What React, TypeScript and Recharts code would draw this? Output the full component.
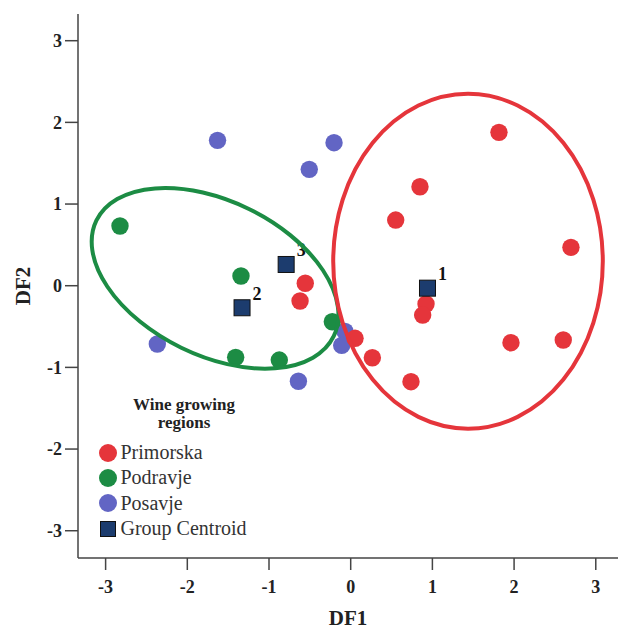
import React from 'react';
import { ScatterChart, Scatter, XAxis, YAxis, Legend } from 'recharts';

// axis ranges
const X_MIN = -3.338;
const X_MAX = 3.272;
const Y_MIN = -3.334;
const Y_MAX = 3.327;
const TICKS = [-3, -2, -1, 0, 1, 2, 3];

const primorska = [
  { x: 1.815, y: 1.878 },
  { x: 0.848, y: 1.212 },
  { x: 0.551, y: 0.804 },
  { x: 2.696, y: 0.47 },
  { x: 0.922, y: -0.224 },
  { x: 0.881, y: -0.359 },
  { x: 0.053, y: -0.644 },
  { x: 0.265, y: -0.882 },
  { x: 0.738, y: -1.175 },
  { x: 1.962, y: -0.698 },
  { x: 2.602, y: -0.665 },
  { x: -0.556, y: 0.03 },
  { x: -0.62, y: -0.187 },
];

const podravje = [
  { x: -2.824, y: 0.731 },
  { x: -1.343, y: 0.119 },
  { x: -0.225, y: -0.441 },
  { x: -1.408, y: -0.877 },
  { x: -0.874, y: -0.91 },
];

const posavje = [
  { x: -1.63, y: 1.78 },
  { x: -0.507, y: 1.425 },
  { x: -0.204, y: 1.751 },
  { x: -2.367, y: -0.714 },
  { x: -0.64, y: -1.17 },
  { x: -0.07, y: -0.56 },
  { x: -0.11, y: -0.73 },
];

const centroids = [
  { x: 0.94, y: -0.03, label: '1' },
  { x: -1.33, y: -0.27, label: '2' },
  { x: -0.79, y: 0.26, label: '3' },
];

// hand drawn group ellipses (centre and radii in DF units, angle in degrees)
const redEllipse = [{ x: 1.436, y: 0.3, rx: 1.65, ry: 2.05, angle: 0 }];
const greenEllipse = [{ x: -1.66, y: 0.09, rx: 1.616, ry: 0.945, angle: 26 }];

const RED = '#E5353B';
const GREEN = '#1C8C44';
const BLUE = '#6265C4';
const NAVY = '#1C3C6E';
const FONT = '"Liberation Serif", "Times New Roman", serif';

const CHART_W = 613;
const CHART_H = 621;
const MARGIN = { top: 6, right: 3, bottom: 0, left: 0 };
const Y_AXIS_W = 70;
const X_AXIS_H = 71;
const PX_X = (CHART_W - MARGIN.left - MARGIN.right - Y_AXIS_W) / (X_MAX - X_MIN);
const PX_Y = (CHART_H - MARGIN.top - MARGIN.bottom - X_AXIS_H) / (Y_MAX - Y_MIN);

const LEGEND_ITEMS = [
  { name: 'Primorska', color: RED, square: false },
  { name: 'Podravje', color: GREEN, square: false },
  { name: 'Posavje', color: BLUE, square: false },
  { name: 'Group Centroid', color: NAVY, square: true },
];

const dot = (color: string) => (p: any) => (
  <circle cx={p.cx} cy={p.cy} r={8.7} fill={color} />
);

const ellipseShape = (color: string) => (p: any) => (
  <ellipse
    cx={p.cx}
    cy={p.cy}
    rx={p.payload.rx * PX_X}
    ry={p.payload.ry * PX_Y}
    transform={`rotate(${p.payload.angle} ${p.cx} ${p.cy})`}
    fill="none"
    stroke={color}
    strokeWidth={4}
  />
);

const centroidShape = (p: any) => (
  <g>
    <rect x={p.cx - 8} y={p.cy - 8} width={16} height={16} fill={NAVY} stroke="#111" strokeWidth={1} />
    <text
      x={p.cx + 15}
      y={p.cy - 14}
      textAnchor="middle"
      dominantBaseline="central"
      fontFamily={FONT}
      fontWeight="bold"
      fontSize={18}
      fill="#111"
    >
      {p.payload.label}
    </text>
  </g>
);

const renderLegend = () => (
  <div style={{ fontFamily: FONT, color: '#333' }}>
    <div style={{ width: 176, textAlign: 'center', fontWeight: 'bold', fontSize: 17, lineHeight: '17.7px', color: '#222' }}>
      Wine growing
      <br />
      regions
    </div>
    <div style={{ marginTop: 8.6 }}>
      {LEGEND_ITEMS.map((item) => (
        <div key={item.name} style={{ display: 'flex', alignItems: 'center', height: 25.3 }}>
          <span
            style={{
              display: 'inline-block',
              marginLeft: item.square ? 3.5 : 2.5,
              width: item.square ? 16 : 18,
              height: item.square ? 16 : 18,
              borderRadius: item.square ? 0 : '50%',
              background: item.color,
              border: item.square ? '1px solid #111' : 'none',
              boxSizing: 'border-box',
              marginRight: item.square ? 5 : 4,
            }}
          />
          <span style={{ fontSize: 20, lineHeight: '25px' }}>{item.name}</span>
        </div>
      ))}
    </div>
  </div>
);

const tickStyle = { fontFamily: FONT, fontWeight: 'bold' as const, fontSize: 18, fill: '#222' };

export default function App() {
  return (
    <div style={{ padding: '8px 0 0 8px', width: CHART_W, height: CHART_H }}>
      <style>{'body{margin:0;overflow:hidden}'}</style>
      <ScatterChart width={CHART_W} height={CHART_H} margin={MARGIN}>
        {/* top frame line of the SPSS box */}
        <XAxis
          xAxisId="top"
          orientation="top"
          type="number"
          dataKey="x"
          domain={[X_MIN, X_MAX]}
          height={0}
          tick={false}
          tickLine={false}
          axisLine={{ stroke: '#888', strokeWidth: 1.5 }}
        />
        <XAxis
          type="number"
          dataKey="x"
          domain={[X_MIN, X_MAX]}
          ticks={TICKS}
          height={X_AXIS_H}
          tickSize={12}
          tickMargin={10}
          tick={tickStyle}
          fontSize={18}
          axisLine={{ stroke: '#444', strokeWidth: 1.5 }}
          tickLine={{ stroke: '#444', strokeWidth: 1.5 }}
          label={{ value: 'DF1', position: 'insideBottom', offset: 4, fontFamily: FONT, fontWeight: 'bold', fontSize: 21, fill: '#222' }}
        />
        <YAxis
          type="number"
          dataKey="y"
          domain={[Y_MIN, Y_MAX]}
          ticks={TICKS}
          width={Y_AXIS_W}
          tickSize={13}
          tickMargin={3}
          tick={tickStyle}
          fontSize={18}
          axisLine={{ stroke: '#444', strokeWidth: 1.5 }}
          tickLine={{ stroke: '#444', strokeWidth: 1.5 }}
          label={{ value: 'DF2', position: 'center', angle: -90, dx: -20.5, fontFamily: FONT, fontWeight: 'bold', fontSize: 21, fill: '#222' }}
        />
        <Legend
          layout="vertical"
          align="center"
          verticalAlign="middle"
          content={renderLegend}
          wrapperStyle={{ left: 88, top: 388, width: 180 }}
        />
        <Scatter name="Posavje" data={posavje} shape={dot(BLUE)} isAnimationActive={false} />
        <Scatter name="Podravje" data={podravje} shape={dot(GREEN)} isAnimationActive={false} />
        <Scatter name="Primorska" data={primorska} shape={dot(RED)} isAnimationActive={false} />
        <Scatter name="Group Centroid" data={centroids} shape={centroidShape} isAnimationActive={false} />
        <Scatter data={greenEllipse} shape={ellipseShape(GREEN)} isAnimationActive={false} legendType="none" />
        <Scatter data={redEllipse} shape={ellipseShape(RED)} isAnimationActive={false} legendType="none" />
      </ScatterChart>
    </div>
  );
}
